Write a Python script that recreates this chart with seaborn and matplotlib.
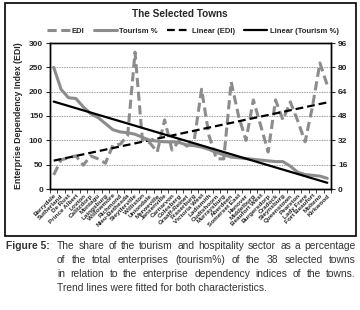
import matplotlib
matplotlib.use("Agg")
import matplotlib.pyplot as plt
import matplotlib.patches as mpatches
from matplotlib.lines import Line2D
from matplotlib.ticker import FixedLocator
import numpy as np
import pandas as pd
import seaborn as sns

towns = ["Barrydale", "Sutherland", "De Rust", "Prince Albert", "Loxton", "Calitzdorp",
         "Montagu", "Laingsburg", "Willowmore", "Richmond", "Nieu-Bethesda", "Steytlerville",
         "Williston", "Uniondale", "Merweville", "Jansenville", "Carnarvon", "Colesberg",
         "Graaff-Reinet", "Fraserburg", "Victoria West", "Ladismith", "Oudtshoorn", "Murraysburg",
         "Aberdeen", "Somerset East", "Hanover", "Middelburg", "Beaufort West", "Burgersdorp",
         "Cradock", "Steynsburg", "Queenstown", "Pearston", "Lady Frere", "Fort Beaufort",
         "Molteno", "Kirkwood"]
edi = [29, 60, 64, 68, 49, 68, 62, 53, 90, 92,
       110, 281, 100, 95, 76, 142, 80, 100, 88, 100,
       205, 110, 62, 62, 220, 150, 100, 183, 130, 76,
       183, 142, 179, 140, 97, 170, 259, 213]
tourism = [80, 65.5, 60, 59.5, 54, 49.5, 47, 43, 39, 37.5,
           37, 36, 34, 32, 31.5, 31, 31, 30.5, 29, 28.5,
           27.5, 26, 24, 22.5, 21, 20.5, 20, 19.5, 19, 18.5,
           18, 18, 15, 11, 9.5, 9, 8.5, 7]
left_ticks = [0, 50, 100, 150, 200, 250, 300]
right_ticks = [0, 16, 32, 48, 64, 80, 96]
caption_lines = ["The share of the tourism and hospitality sector as a percentage",
                 "of the total enterprises (tourism%) of the 38 selected towns",
                 "in relation to the enterprise dependency indices of the towns.",
                 "Trend lines were fitted for both characteristics."]

df = pd.DataFrame({"pos": np.arange(len(towns)), "town": towns, "EDI": edi, "Tourism": tourism})

sns.set_style("white")
FONT = ["Liberation Sans", "DejaVu Sans"]
plt.rcParams["font.family"] = FONT

GREY = "#8c8c8c"
LW_G = 2.2
W, H = 360, 310
fig = plt.figure(figsize=(3.6, 3.1), dpi=100)
ax = fig.add_axes([50/W, 1-189/H, 281/W, 146/H])
ax2 = ax.twinx()

edi_dash = (3.0, 1.5)
sns.lineplot(data=df, x="pos", y="EDI", ax=ax, color=GREY, lw=LW_G, zorder=3)
ax.lines[-1].set_dashes(edi_dash)
sns.regplot(data=df, x="pos", y="EDI", ax=ax, scatter=False, ci=None, truncate=True,
            line_kws=dict(color="black", lw=1.6, dashes=(3.5, 1.8), zorder=4))
sns.lineplot(data=df, x="pos", y="Tourism", ax=ax2, color=GREY, lw=LW_G, zorder=3)
sns.regplot(data=df, x="pos", y="Tourism", ax=ax2, scatter=False, ci=None, truncate=True,
            line_kws=dict(color="black", lw=1.6, zorder=4))

ax.set_xlim(-0.5, len(towns) - 0.5)
ax.set_ylim(0, 300)
ax2.set_ylim(0, 96)
ax.set_yticks(left_ticks)
ax2.set_yticks(right_ticks)
ax.set_xticks(df["pos"])
ax.set_xticklabels(towns, rotation=45, ha="right", rotation_mode="anchor",
                   fontsize=4.6, fontweight="bold")
ax.xaxis.set_minor_locator(FixedLocator(np.arange(-0.5, len(towns), 1.0)))
ax.tick_params(axis="x", which="major", length=0, pad=3)
ax.tick_params(axis="x", which="minor", length=3, width=0.6, direction="out", bottom=True)
ax.tick_params(axis="y", length=3, width=0.8, direction="out", left=True, labelsize=6, pad=2)
ax2.tick_params(axis="y", length=3, width=0.8, direction="out", right=True, labelsize=6, pad=2)
for lab in ax.get_yticklabels() + ax2.get_yticklabels():
    lab.set_fontweight("bold")
ax.set_xlabel("")
ax.set_ylabel("Enterprise Dependency Index (EDI)", fontsize=6.3, fontweight="bold", labelpad=4)
ax2.set_ylabel("")
ax.yaxis.grid(True, linestyle=(0, (1, 1)), color="#777777", lw=0.6)
ax.set_axisbelow(True)
for a in (ax, ax2):
    for s in a.spines.values():
        s.set_color("black")
        s.set_linewidth(1.0)

fig.text(0.5, 1-14/H, "The Selected Towns", ha="center", va="center",
         fontsize=7.2, fontweight="bold")

handles = [Line2D([], [], color=GREY, lw=LW_G, dashes=edi_dash),
           Line2D([], [], color=GREY, lw=LW_G),
           Line2D([], [], color="black", lw=1.6, dashes=(3.5, 1.8)),
           Line2D([], [], color="black", lw=1.6)]
labels = ["EDI", "Tourism %", "Linear (EDI)", "Linear (Tourism %)"]
fig.legend(handles, labels, loc="center", bbox_to_anchor=(0.535, 1-31/H), ncol=4,
           frameon=False, prop=dict(family=FONT, size=5.5, weight="bold"),
           handlelength=3.0, handletextpad=0.3, columnspacing=1.2)

fig.add_artist(mpatches.Rectangle((5/W, 1-236/H), 351/W, 233/H,
                                  transform=fig.transFigure, fill=False,
                                  edgecolor="black", lw=1.2))

CAP = ["Liberation Sans Narrow", "Liberation Sans", "DejaVu Sans"]
cap_color = "#333333"
CAP_SIZE = 7.4
fig.text(6/W, 1-246/H, "Figure 5:", ha="left", va="center", fontsize=CAP_SIZE,
         family=CAP, color=cap_color, fontweight="bold")

renderer = fig.canvas.get_renderer()
x0, x1 = 57, 356
for i, t in enumerate(caption_lines):
    y = 1 - (246 + 14*i)/H
    words = t.split(" ")
    if i < len(caption_lines) - 1:
        arts = [fig.text(0, y, w, ha="left", va="center", fontsize=CAP_SIZE,
                         family=CAP, color=cap_color) for w in words]
        widths = [a.get_window_extent(renderer).width for a in arts]
        gap = (x1 - x0 - sum(widths)) / (len(words) - 1)
        x = x0
        for a, w in zip(arts, widths):
            a.set_x(x / W)
            x += w + gap
    else:
        fig.text(x0/W, y, t, ha="left", va="center", fontsize=CAP_SIZE,
                 family=CAP, color=cap_color)

fig.savefig("out.png", dpi=100)
